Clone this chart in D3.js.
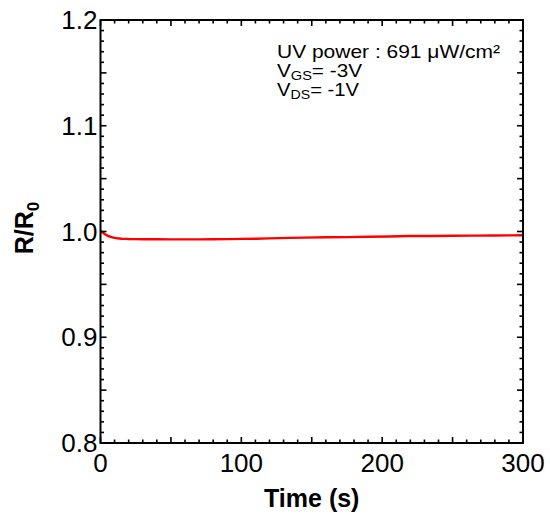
<!DOCTYPE html>
<html><head><meta charset="utf-8">
<script src="https://cdn.jsdelivr.net/npm/d3@7"></script>
<style>body{margin:0;background:#fff}</style>
</head><body>
<svg id="c" width="550" height="519"></svg>
<script>
const timeS = [0,1,2,3,4,5,6,8,10,12,15,18,20,25,30,40,50,60,70,80,90,100,110,120,134,145,160,175,190,205,219,235,250,265,280,290,300];
const ratio = [1.0005,0.9995,0.9985,0.9976,0.9968,0.9961,0.9955,0.9947,0.9940,0.9936,0.9932,0.9930,0.9929,0.9928,0.9927,0.9927,0.9926,0.9926,0.9926,0.9927,0.9928,0.9930,0.9932,0.9935,0.9940,0.9942,0.9945,0.9947,0.9950,0.9953,0.9957,0.9958,0.9960,0.9961,0.9962,0.9963,0.9964];
const xTickLabels = [0,100,200,300];
const yTickLabels = [0.8,0.9,1.0,1.1,1.2];

const svg = d3.select("#c");
const L=100.5, R=523, T=20, B=443;
const x = d3.scaleLinear().domain([0,300]).range([L,R]);
const y = d3.scaleLinear().domain([0.8,1.2]).range([B,T]);
const font = "Liberation Sans, Arial, sans-serif";

// data line
svg.append("path").datum(timeS.map((t,i)=>[t,ratio[i]]))
  .attr("fill","none").attr("stroke","#ff0000").attr("stroke-width",2.4)
  .attr("d", d3.line().x(d=>x(d[0])).y(d=>y(d[1])));

// ticks
const xMinor = d3.range(0,301,10), yMinor = d3.range(0,41,1).map(d=>0.8+d*0.01);
const g = svg.append("g").attr("stroke","#000").attr("stroke-width",1.6);
xMinor.forEach(v=>{
  const len = (v%50===0)?6:3.5;
  g.append("line").attr("x1",x(v)).attr("x2",x(v)).attr("y1",B).attr("y2",B-len);
  g.append("line").attr("x1",x(v)).attr("x2",x(v)).attr("y1",T).attr("y2",T+len);
});
yMinor.forEach((v,i)=>{
  const len = (i%5===0)?6:3.5;
  g.append("line").attr("y1",y(v)).attr("y2",y(v)).attr("x1",L).attr("x2",L+len);
  g.append("line").attr("y1",y(v)).attr("y2",y(v)).attr("x1",R).attr("x2",R-len);
});
svg.append("rect").attr("x",L).attr("y",T).attr("width",R-L).attr("height",B-T)
  .attr("fill","none").attr("stroke","#000").attr("stroke-width",2);

// tick labels
svg.selectAll(".xl").data(xTickLabels).enter().append("text")
  .attr("x",d=>x(d)).attr("y",B+29).attr("text-anchor","middle")
  .attr("font-family",font).attr("font-size",26).text(d=>d);
svg.selectAll(".yl").data(yTickLabels).enter().append("text")
  .attr("x",L-3).attr("y",d=>y(d)+9).attr("text-anchor","end")
  .attr("font-family",font).attr("font-size",26).text(d=>d.toFixed(1));

// axis titles
svg.append("text").attr("x",(L+R)/2).attr("y",507).attr("text-anchor","middle")
  .attr("font-family",font).attr("font-size",25).attr("font-weight","bold").text("Time (s)");
const yt = svg.append("text").attr("transform","translate(33,228) rotate(-90)").attr("text-anchor","middle")
  .attr("font-family",font).attr("font-size",25).attr("font-weight","bold");
yt.append("tspan").text("R/R");
yt.append("tspan").attr("font-size",17).attr("dy",6).text("0");

// annotation
const ann = svg.append("g").attr("font-family",font).attr("font-size",18.5);
ann.append("text").attr("x",277).attr("y",58).attr("textLength",223).attr("lengthAdjust","spacingAndGlyphs").text("UV power : 691 μW/cm²");
const t2 = ann.append("text").attr("x",277).attr("y",77).attr("textLength",85).attr("lengthAdjust","spacingAndGlyphs");
t2.append("tspan").text("V");
t2.append("tspan").attr("font-size",13).attr("dy",3).text("GS");
t2.append("tspan").attr("dy",-3).text("= -3V");
const t3 = ann.append("text").attr("x",277).attr("y",95.5).attr("textLength",82).attr("lengthAdjust","spacingAndGlyphs");
t3.append("tspan").text("V");
t3.append("tspan").attr("font-size",13).attr("dy",3).text("DS");
t3.append("tspan").attr("dy",-3).text("= -1V");
</script>
</body></html>
